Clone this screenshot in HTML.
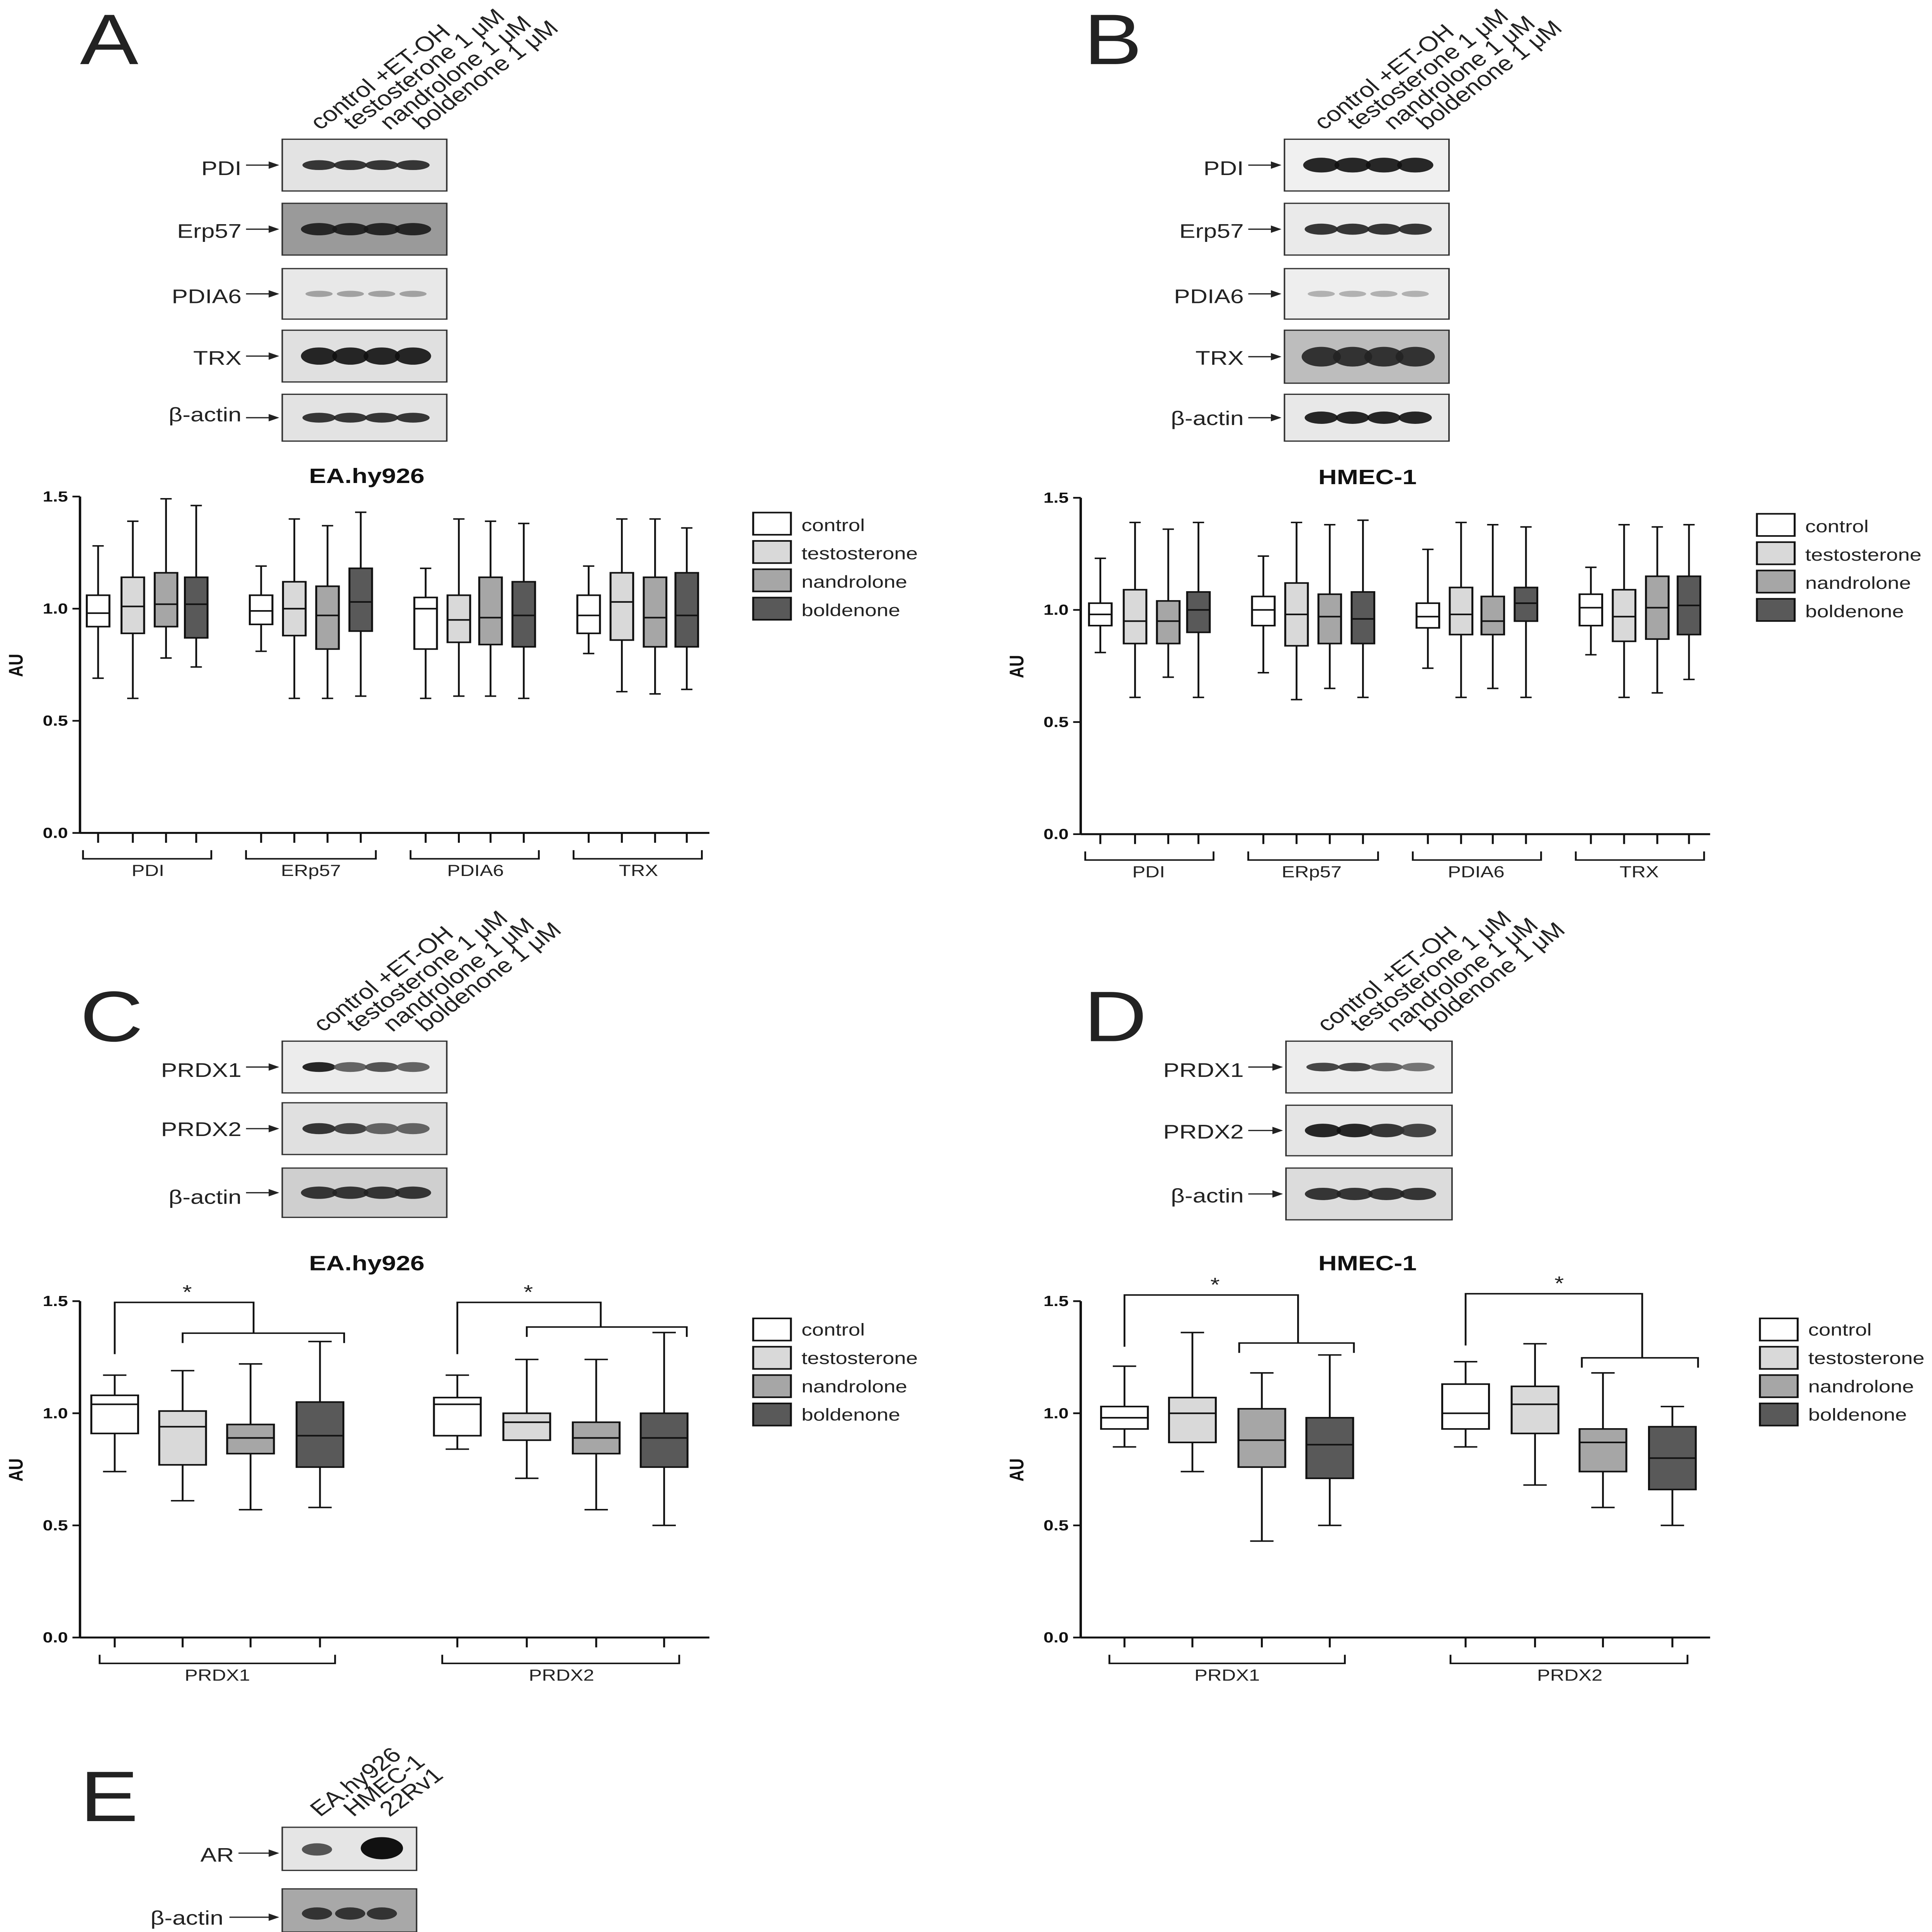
<!DOCTYPE html>
<html><head><meta charset="utf-8"><style>
html,body{margin:0;padding:0;background:#fff;width:100vw;height:100vh;overflow:hidden;}
svg{display:block;width:100vw;height:100vh;}
text{font-family:"Liberation Sans",Arial,sans-serif;}
</style></head><body>
<svg id="s" viewBox="0 0 1280 1568" preserveAspectRatio="none" xmlns="http://www.w3.org/2000/svg">
<rect width="1280" height="1568" fill="#fff"/>
<g font-size="58" fill="#222">
<text x="53" y="52">A</text><text x="718" y="52">B</text>
<text x="53" y="845">C</text><text x="718" y="845">D</text>
<text x="53" y="1478">E</text>
</g>
<g font-size="17" fill="#222">
<text transform="translate(212,106) rotate(-42)">control +ET-OH</text>
<text transform="translate(234,106) rotate(-42)">testosterone 1 μM</text>
<text transform="translate(258,106) rotate(-42)">nandrolone 1 μM</text>
<text transform="translate(280,106) rotate(-42)">boldenone 1 μM</text>
<text transform="translate(877,106) rotate(-42)">control +ET-OH</text>
<text transform="translate(899,106) rotate(-42)">testosterone 1 μM</text>
<text transform="translate(923,106) rotate(-42)">nandrolone 1 μM</text>
<text transform="translate(945,106) rotate(-42)">boldenone 1 μM</text>
<text transform="translate(214,838) rotate(-42)">control +ET-OH</text>
<text transform="translate(236,838) rotate(-42)">testosterone 1 μM</text>
<text transform="translate(260,838) rotate(-42)">nandrolone 1 μM</text>
<text transform="translate(282,838) rotate(-42)">boldenone 1 μM</text>
<text transform="translate(879,838) rotate(-42)">control +ET-OH</text>
<text transform="translate(901,838) rotate(-42)">testosterone 1 μM</text>
<text transform="translate(925,838) rotate(-42)">nandrolone 1 μM</text>
<text transform="translate(947,838) rotate(-42)">boldenone 1 μM</text>
<text transform="translate(212,1475) rotate(-42)">EA.hy926</text>
<text transform="translate(234,1475) rotate(-42)">HMEC-1</text>
<text transform="translate(258,1475) rotate(-42)">22Rv1</text>
</g>
<g id="blots"></g>
<g id="charts"></g>
<g font-size="16" fill="#222" text-anchor="end">
<text x="160" y="142">PDI</text><text x="160" y="193">Erp57</text><text x="160" y="246">PDIA6</text><text x="160" y="296">TRX</text><text x="160" y="342">β-actin</text>
<text x="824" y="142">PDI</text><text x="824" y="193">Erp57</text><text x="824" y="246">PDIA6</text><text x="824" y="296">TRX</text><text x="824" y="345">β-actin</text>
<text x="160" y="874">PRDX1</text><text x="160" y="922">PRDX2</text><text x="160" y="977">β-actin</text>
<text x="824" y="874">PRDX1</text><text x="824" y="924">PRDX2</text><text x="824" y="976">β-actin</text>
<text x="155" y="1511">AR</text><text x="148" y="1562">β-actin</text>
</g>
<g font-size="17" font-weight="bold" fill="#111" text-anchor="middle">
<text x="243" y="392">EA.hy926</text><text x="906" y="393">HMEC-1</text>
<text x="243" y="1031">EA.hy926</text><text x="906" y="1031">HMEC-1</text>
</g>
<g font-size="14" fill="#222">
<text x="531" y="431">control</text><text x="531" y="454">testosterone</text><text x="531" y="477">nandrolone</text><text x="531" y="500">boldenone</text>
<text x="1196" y="432">control</text><text x="1196" y="455">testosterone</text><text x="1196" y="478">nandrolone</text><text x="1196" y="501">boldenone</text>
<text x="531" y="1084">control</text><text x="531" y="1107">testosterone</text><text x="531" y="1130">nandrolone</text><text x="531" y="1153">boldenone</text>
<text x="1198" y="1084">control</text><text x="1198" y="1107">testosterone</text><text x="1198" y="1130">nandrolone</text><text x="1198" y="1153">boldenone</text>
</g>
<g font-size="13" fill="#222" text-anchor="middle">
<text x="98" y="711">PDI</text><text x="206" y="711">ERp57</text><text x="315" y="711">PDIA6</text><text x="423" y="711">TRX</text>
<text x="761" y="712">PDI</text><text x="869" y="712">ERp57</text><text x="978" y="712">PDIA6</text><text x="1086" y="712">TRX</text>
<text x="144" y="1364">PRDX1</text><text x="372" y="1364">PRDX2</text>
<text x="813" y="1364">PRDX1</text><text x="1040" y="1364">PRDX2</text>
<text x="124" y="1054" font-size="16">*</text><text x="350" y="1054" font-size="16">*</text>
<text x="805" y="1048" font-size="16">*</text><text x="1033" y="1047" font-size="16">*</text>
</g>
<g font-size="12" font-weight="bold" fill="#111" text-anchor="end">
<text x="45" y="407">1.5</text><text x="45" y="498">1.0</text><text x="45" y="589">0.5</text><text x="45" y="680">0.0</text>
<text x="708" y="408">1.5</text><text x="708" y="499">1.0</text><text x="708" y="590">0.5</text><text x="708" y="681">0.0</text>
<text x="45" y="1060">1.5</text><text x="45" y="1151">1.0</text><text x="45" y="1242">0.5</text><text x="45" y="1333">0.0</text>
<text x="708" y="1060">1.5</text><text x="708" y="1151">1.0</text><text x="708" y="1242">0.5</text><text x="708" y="1333">0.0</text>
</g>
<g font-size="13" font-weight="bold" fill="#111" text-anchor="middle">
<text transform="translate(15,540) rotate(-90)">AU</text>
<text transform="translate(678,541) rotate(-90)">AU</text>
<text transform="translate(15,1193) rotate(-90)">AU</text>
<text transform="translate(678,1193) rotate(-90)">AU</text>
</g>
</svg>
<script>
var NS="http://www.w3.org/2000/svg";
function el(p,t,a){var e=document.createElementNS(NS,t);for(var k in a)e.setAttribute(k,a[k]);p.appendChild(e);return e;}
var B=document.getElementById("blots"),C=document.getElementById("charts");
function blot(x,y,w,h,bg,n,dark,bw,bh,arrowFrom){
 el(B,"rect",{x:x,y:y,width:w,height:h,fill:bg,stroke:"#333","stroke-width":1});
 var sp=(w-26)/n;
 for(var i=0;i<n;i++){var cx=x+14+sp*i+sp/2;
  el(B,"ellipse",{cx:cx,cy:y+h/2,rx:bw,ry:bh,fill:dark[i]||dark[0],opacity:.9});}
 if(arrowFrom){el(B,"line",{x1:arrowFrom,y1:y+h/2,x2:x-3,y2:y+h/2,stroke:"#222","stroke-width":1});
  el(B,"path",{d:"M"+(x-2)+","+(y+h/2)+" l-7,-3 l0,6z",fill:"#222"});}
}
blot(187,113,109,42,"#e3e3e3",4,["#222"],11,4,163);
blot(187,165,109,42,"#9a9a9a",4,["#1a1a1a"],12,5,163);
blot(187,218,109,41,"#e8e8e8",4,["#999"],9,2.5,163);
blot(187,268,109,42,"#e0e0e0",4,["#111"],12,7,163);
blot(187,320,109,38,"#e3e3e3",4,["#222"],11,4,163);
blot(851,113,109,42,"#f0f0f0",4,["#111"],12,6,827);
blot(851,165,109,42,"#eaeaea",4,["#222"],11,4.5,827);
blot(851,218,109,41,"#eeeeee",4,["#aaa"],9,2.5,827);
blot(851,268,109,43,"#bdbdbd",4,["#222"],13,8,827);
blot(851,320,109,38,"#e8e8e8",4,["#111"],11,5,827);
blot(187,845,109,42,"#ececec",4,["#111","#555","#444","#555"],11,4,163);
blot(187,895,109,42,"#e0e0e0",4,["#222","#333","#555","#555"],11,4.5,163);
blot(187,948,109,40,"#cfcfcf",4,["#222"],12,5,163);
blot(852,845,110,42,"#ededed",4,["#333","#333","#555","#666"],11,3.5,827);
blot(852,897,110,41,"#e5e5e5",4,["#111","#111","#222","#333"],12,5.5,827);
blot(852,948,110,42,"#dcdcdc",4,["#222"],12,5,827);
el(B,"rect",{x:187,y:1483,width:89,height:35,fill:"#e5e5e5",stroke:"#333"});
el(B,"ellipse",{cx:210,cy:1501,rx:10,ry:5,fill:"#555"});
el(B,"ellipse",{cx:253,cy:1500,rx:14,ry:9,fill:"#111"});
el(B,"line",{x1:158,y1:1504,x2:184,y2:1504,stroke:"#222"});el(B,"path",{d:"M185,1504 l-7,-3 l0,6z",fill:"#222"});
el(B,"rect",{x:187,y:1533,width:89,height:35,fill:"#a8a8a8",stroke:"#333"});
[210,232,253].forEach(function(c){el(B,"ellipse",{cx:c,cy:1553,rx:10,ry:5,fill:"#333"});});
el(B,"line",{x1:152,y1:1556,x2:184,y2:1556,stroke:"#222"});el(B,"path",{d:"M185,1556 l-7,-3 l0,6z",fill:"#222"});

var fills=["#fff","#d9d9d9","#a6a6a6","#595959"];
function chart(ax,y0,xEnd,groups,bw,legX,legY,legStep){
 var sc=182;function Y(v){return y0-sc*v;}
 el(C,"line",{x1:ax,y1:Y(1.5),x2:ax,y2:y0,stroke:"#111","stroke-width":1.6});
 el(C,"line",{x1:ax,y1:y0,x2:xEnd,y2:y0,stroke:"#111","stroke-width":1.6});
 [0,.5,1,1.5].forEach(function(v){el(C,"line",{x1:ax-5,y1:Y(v),x2:ax,y2:Y(v),stroke:"#111","stroke-width":1.4});});
 groups.forEach(function(g){
  var cs=g.c;
  cs.forEach(function(cx,i){var d=g.d[i];
   el(C,"line",{x1:cx,y1:y0,x2:cx,y2:y0+8,stroke:"#111","stroke-width":1.3});
   el(C,"line",{x1:cx,y1:Y(d[0]),x2:cx,y2:Y(d[4]),stroke:"#111","stroke-width":1.2});
   el(C,"line",{x1:cx-bw/4,y1:Y(d[0]),x2:cx+bw/4,y2:Y(d[0]),stroke:"#111","stroke-width":1.2});
   el(C,"line",{x1:cx-bw/4,y1:Y(d[4]),x2:cx+bw/4,y2:Y(d[4]),stroke:"#111","stroke-width":1.2});
   el(C,"rect",{x:cx-bw/2,y:Y(d[3]),width:bw,height:Y(d[1])-Y(d[3]),fill:fills[i],stroke:"#111","stroke-width":1.3});
   el(C,"line",{x1:cx-bw/2,y1:Y(d[2]),x2:cx+bw/2,y2:Y(d[2]),stroke:"#111","stroke-width":1.3});
  });
  var l=cs[0]-10,r=cs[3]+10,by=y0+21;
  el(C,"path",{d:"M"+l+","+(by-7)+" L"+l+","+by+" L"+r+","+by+" L"+r+","+(by-7),fill:"none",stroke:"#111","stroke-width":1.2});
 });
 for(var i=0;i<4;i++)el(C,"rect",{x:legX,y:legY+i*legStep,width:25,height:18,fill:fills[i],stroke:"#111","stroke-width":1.3});
}
function G(cs,d){return {c:cs,d:d};}
var A=[[65,88,110,130],[173,195,217,239],[282,304,325,347],[390,412,434,455]];
chart(53,676,470,[
 G(A[0],[[.69,.92,.98,1.06,1.28],[.60,.89,1.01,1.14,1.39],[.78,.92,1.02,1.16,1.49],[.74,.87,1.02,1.14,1.46]]),
 G(A[1],[[.81,.93,.99,1.06,1.19],[.60,.88,1.00,1.12,1.40],[.60,.82,.97,1.10,1.37],[.61,.90,1.03,1.18,1.43]]),
 G(A[2],[[.60,.82,1.00,1.05,1.18],[.61,.85,.95,1.06,1.40],[.61,.84,.96,1.14,1.39],[.60,.83,.97,1.12,1.38]]),
 G(A[3],[[.80,.89,.97,1.06,1.19],[.63,.86,1.03,1.16,1.40],[.62,.83,.96,1.14,1.40],[.64,.83,.97,1.16,1.36]])
],15,499,416,23);
function sh(a,o){return a.map(function(v){return v+o;});}
chart(716,677,1133,[
 G(sh(A[0],664),[[.81,.93,.98,1.03,1.23],[.61,.85,.95,1.09,1.39],[.70,.85,.95,1.04,1.36],[.61,.90,1.00,1.08,1.39]]),
 G(sh(A[1],664),[[.72,.93,1.00,1.06,1.24],[.60,.84,.98,1.12,1.39],[.65,.85,.97,1.07,1.38],[.61,.85,.96,1.08,1.40]]),
 G(sh(A[2],664),[[.74,.92,.97,1.03,1.27],[.61,.89,.98,1.10,1.39],[.65,.89,.95,1.06,1.38],[.61,.95,1.03,1.10,1.37]]),
 G(sh(A[3],664),[[.80,.93,1.01,1.07,1.19],[.61,.86,.97,1.09,1.38],[.63,.87,1.01,1.15,1.37],[.69,.89,1.02,1.15,1.38]])
],15,1164,417,23);
chart(53,1329,470,[
 G([76,121,166,212],[[.74,.91,1.04,1.08,1.17],[.61,.77,.94,1.01,1.19],[.57,.82,.89,.95,1.22],[.58,.76,.90,1.05,1.32]]),
 G([303,349,395,440],[[.84,.90,1.04,1.07,1.17],[.71,.88,.96,1.00,1.24],[.57,.82,.89,.96,1.24],[.50,.76,.89,1.00,1.36]])
],31,499,1070,23);
chart(716,1329,1133,[
 G([745,790,836,881],[[.85,.93,.98,1.03,1.21],[.74,.87,1.00,1.07,1.36],[.43,.76,.88,1.02,1.18],[.50,.71,.86,.98,1.26]]),
 G([971,1017,1062,1108],[[.85,.93,1.00,1.13,1.23],[.68,.91,1.04,1.12,1.31],[.58,.74,.87,.93,1.18],[.50,.66,.80,.94,1.03]])
],31,1166,1070,23);
function sig(x1,x2,y1,a,b,y2){
 el(C,"path",{d:"M"+x1+","+(y1+42)+" L"+x1+","+y1+" L"+x2+","+y1+" L"+x2+","+y2,fill:"none",stroke:"#111","stroke-width":1.2});
 el(C,"path",{d:"M"+a+","+(y2+8)+" L"+a+","+y2+" L"+b+","+y2+" L"+b+","+(y2+8),fill:"none",stroke:"#111","stroke-width":1.2});
}
sig(76,168,1057,121,228,1082);
sig(303,398,1057,349,455,1077);
sig(745,860,1051,821,897,1090);
sig(971,1088,1050,1048,1125,1102);
</script>
</body></html>
